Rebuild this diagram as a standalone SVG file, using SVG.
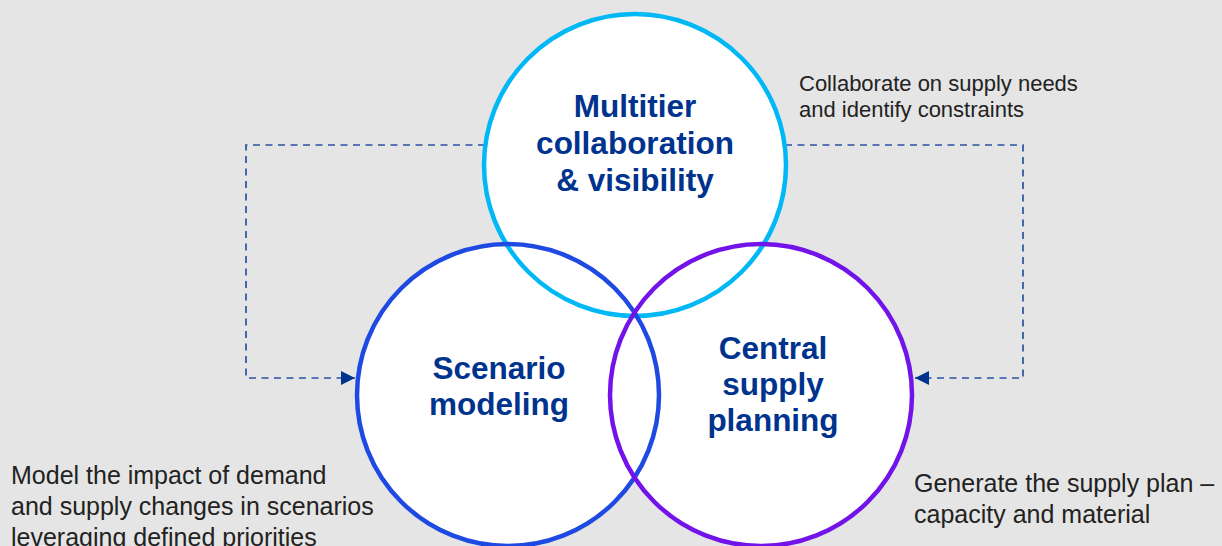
<svg xmlns="http://www.w3.org/2000/svg" width="1222" height="546" viewBox="0 0 1222 546">
  <style>
    .ring { fill: none; stroke-width: 4.5; }
    .disc { fill: #ffffff; }
    .title { font-family: "Liberation Sans", Arial, sans-serif; font-weight: bold; font-size: 31.5px; fill: #00338d; text-anchor: middle; }
    .note { font-family: "Liberation Sans", Arial, sans-serif; fill: #222222; }
    .flow { fill: none; stroke: #2a52a3; stroke-width: 1.7; stroke-dasharray: 7 5.5; }
  </style>
  <defs>
    <marker id="arrow" viewBox="0 0 14 14" refX="14" refY="7" markerWidth="14" markerHeight="14" markerUnits="userSpaceOnUse" orient="auto">
      <path d="M0,0 L14,7 L0,14 Z" fill="#00338d"/>
    </marker>
  </defs>

  <rect width="1222" height="546" fill="#e5e5e5"/>

  <!-- feedback loops from the collaboration hub to the two planning circles -->
  <g id="connectors">
    <path class="flow" d="M635,145 H246 V378 H355" marker-end="url(#arrow)"/>
    <path class="flow" d="M635,145 H1023 V378 H915" marker-end="url(#arrow)"/>
  </g>

  <!-- white discs underneath so every outline stays visible where circles overlap -->
  <g id="discs">
    <circle class="disc" cx="635" cy="165" r="151"/>
    <circle class="disc" cx="508" cy="395" r="151"/>
    <circle class="disc" cx="761" cy="395" r="151"/>
  </g>

  <g id="node-multitier">
    <circle class="ring" cx="635" cy="165" r="151" stroke="#00b8f5"/>
    <text class="title" x="635" y="117">Multitier</text>
    <text class="title" x="635" y="154">collaboration</text>
    <text class="title" x="635" y="191">&amp; visibility</text>
  </g>

  <g id="node-scenario">
    <circle class="ring" cx="508" cy="395" r="151" stroke="#1e49e2"/>
    <text class="title" x="499" y="379">Scenario</text>
    <text class="title" x="499" y="415">modeling</text>
  </g>

  <g id="node-central">
    <circle class="ring" cx="761" cy="395" r="151" stroke="#7213ea"/>
    <text class="title" x="773" y="359">Central</text>
    <text class="title" x="773" y="395">supply</text>
    <text class="title" x="773" y="431">planning</text>
  </g>

  <g id="notes">
    <text class="note" font-size="22" x="799" y="91">Collaborate on supply needs</text>
    <text class="note" font-size="22" x="799" y="117">and identify constraints</text>
    <text class="note" font-size="25" x="11" y="484">Model the impact of demand</text>
    <text class="note" font-size="25" x="11" y="515">and supply changes in scenarios</text>
    <text class="note" font-size="25" x="11" y="546">leveraging defined priorities</text>
    <text class="note" font-size="25" x="914" y="492">Generate the supply plan –</text>
    <text class="note" font-size="25" x="914" y="523">capacity and material</text>
  </g>
</svg>
